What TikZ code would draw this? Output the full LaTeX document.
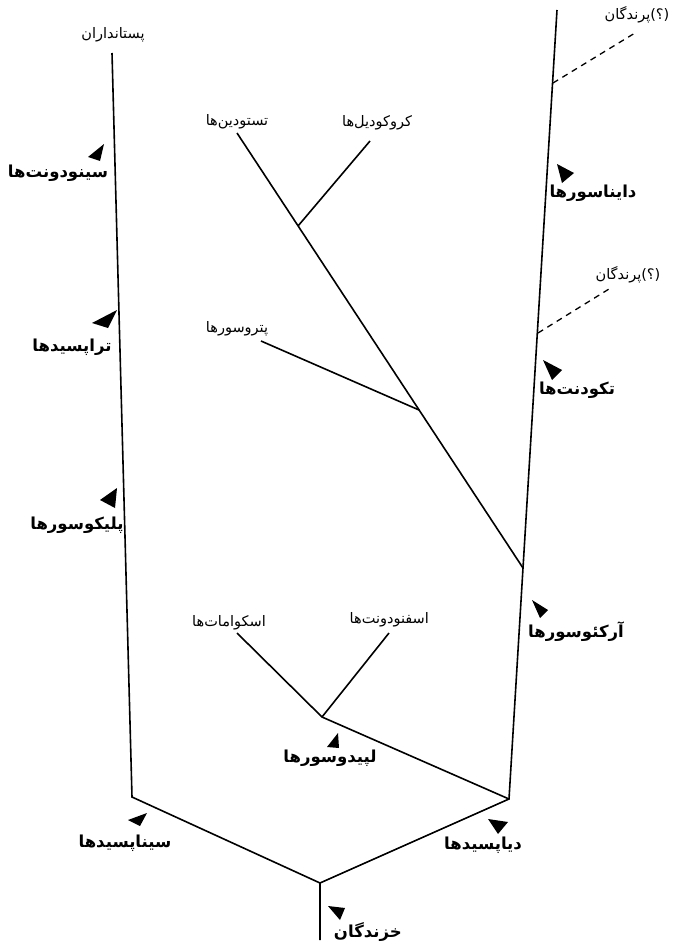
\documentclass[tikz,border=0pt]{standalone}
\usepackage{fontspec}
\usepackage{tikz}
\TeXXeTstate=1
\newfontfamily\farsi[Script=Arabic]{DejaVu Sans}
\newfontfamily\farsilat{DejaVu Sans}
\definecolor{CladeInk}{HTML}{000000}
\definecolor{CladePaper}{HTML}{FFFFFF}

\begin{document}
\begin{tikzpicture}[x=1pt,y=-1pt,
    branch/.style={draw=CladeInk,line width=1.6pt},
    guess/.style={draw=CladeInk,line width=1.3pt,dash pattern=on 6pt off 5pt},
    taxon/.style={text=CladeInk,inner sep=0pt,font=\farsi\fontsize{14.5}{16}\selectfont},
    grade/.style={text=CladeInk,inner sep=0pt,font=\farsi\bfseries\fontsize{16.5}{18}\selectfont},
    marker/.style={fill=CladeInk}]
    \fill[CladePaper] (0,0) rectangle (676,947);
    \useasboundingbox (0,0) rectangle (676,947);
    % forks and tips of the tree
    \coordinate (base) at (320,940);
    \coordinate (amniota) at (320,883);
    \coordinate (synapsid) at (132,797);
    \coordinate (mammaltip) at (112,53);
    \coordinate (diapsid) at (509,799);
    \coordinate (lepido) at (322,717);
    \coordinate (squamtip) at (237,633);
    \coordinate (sphenotip) at (389,633);
    \coordinate (archo) at (523,568);
    \coordinate (dinotip) at (557,10);
    \coordinate (birdlow) at (538,333);
    \coordinate (birdlowtip) at (609,289);
    \coordinate (birdhigh) at (553,83);
    \coordinate (birdhightip) at (635,33);
    \coordinate (ptero) at (419,410);
    \coordinate (pterotip) at (261,341);
    \coordinate (croco) at (298,226);
    \coordinate (crocotip) at (370,141);
    \coordinate (turtletip) at (237,133);
    \draw[branch] (base) -- (amniota) -- (synapsid) -- (mammaltip);
    \draw[branch] (amniota) -- (diapsid) -- (archo) -- (dinotip);
    \draw[branch] (diapsid) -- (lepido) -- (squamtip);
    \draw[branch] (lepido) -- (sphenotip);
    \draw[branch] (archo) -- (turtletip);
    \draw[branch] (ptero) -- (pterotip);
    \draw[branch] (croco) -- (crocotip);
    \draw[guess] (birdhigh) -- (birdhightip);
    \draw[guess] (birdlow) -- (birdlowtip);
    % tip names
    \foreach \n/\x/\y/\t in {
      mammals/113/35/پستانداران, turtles/237/122/تستودین‌ها,
      crocodiles/377/123/کروکودیل‌ها, pterosaurs/237/329/پتروسورها,
      squamates/229/623/اسکوامات‌ها, sphenodonts/387/620/اسفنودونت‌ها
    } {
      \node[taxon] (\n) at (\x,\y) {\beginR\t\endR};
    }
    \node[taxon] (birdshigh) at (637,15) {\hbox{پرندگان}{\farsilat(}\hbox{؟}{\farsilat)}};
    \node[taxon] (birdslow) at (628,275) {\hbox{پرندگان}{\farsilat(}\hbox{؟}{\farsilat)}};
    % group names with their wedges
    \foreach \n/\x/\y/\t in {
      cynodonts/58/173/سینودونت‌ها, therapsids/72/347/تراپسیدها,
      pelycosaurs/77/525/پلیکوسورها, synapsids/125/843/سیناپسیدها,
      dinosaurs/593/193/دایناسورها, thecodonts/577/390/تکودنت‌ها,
      archosaurs/576/632/آرکئوسورها, lepidosaurs/330/758/لپیدوسورها,
      diapsids/483/845/دیاپسیدها, reptiles/365/932/خزندگان
    } {
      \node[grade] (\n) at (\x,\y) {\beginR\t\endR};
    }
    \foreach \ax/\ay/\bx/\by/\cx/\cy in {
      104/144/88/157/100/161, 117/310/92/323/108/328,
      117/488/100/500/115/508, 147/813/128/820/140/826,
      557/164/574/173/562/183, 543/360/562/370/552/380,
      532/600/548/610/540/618, 338/733/327/747/339/748,
      488/819/508/822/498/834, 328/906/345/908/340/920
    } {
      \fill[marker] (\ax,\ay) -- (\bx,\by) -- (\cx,\cy) -- cycle;
    }
\end{tikzpicture}
\end{document}
